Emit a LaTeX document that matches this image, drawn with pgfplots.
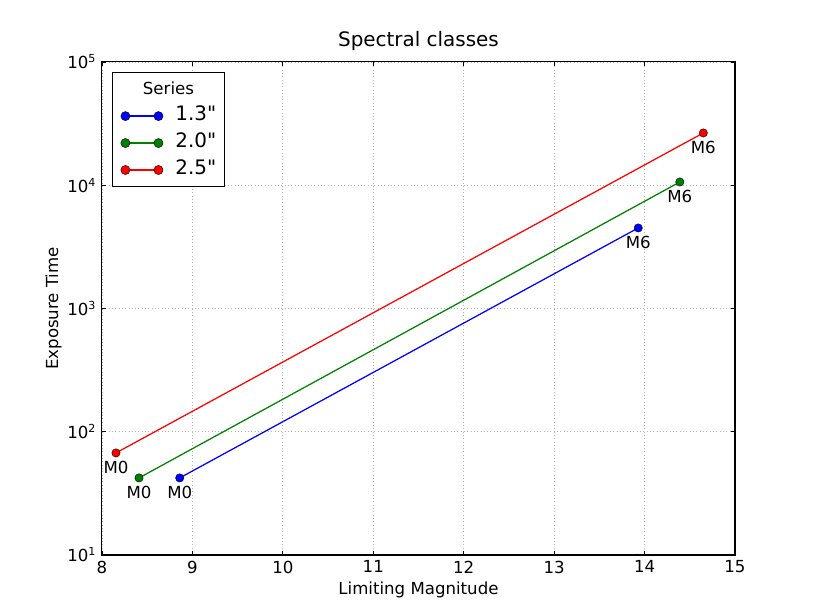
\documentclass[border=0pt]{standalone}
\usepackage{pgfplots}
\pgfplotsset{compat=1.18}
\usepackage{fontspec}
\setmainfont{DejaVu Sans}
\definecolor{mplblue}{rgb}{0,0,1}
\definecolor{mplgreen}{rgb}{0,0.5,0}
\definecolor{mplred}{rgb}{1,0,0}
\newcommand\dq{\XeTeXglyph\XeTeXcharglyph"22\relax}
\begin{document}
\fontsize{12}{14}\selectfont
\begin{tikzpicture}
\begin{axis}[
  scale only axis,
  width=455.8bp, height=355bp,
  xmin=8, xmax=15, ymin=10, ymax=100000,
  ymode=log, log basis y=10,
  xtick={8,9,10,11,12,13,14,15},
  ytick={10,100,1000,10000,100000},
  yticklabels={10\textsuperscript{1},10\textsuperscript{2},10\textsuperscript{3},10\textsuperscript{4},10\textsuperscript{5}},
  /pgf/number format/assume math mode=true,
  tick label style={font=\fontsize{12}{14}\selectfont},
  label style={font=\fontsize{12}{14}\selectfont},
  title style={font=\fontsize{14.4}{17}\selectfont, at={(0.5,1)}, anchor=base, yshift=5bp},
  title={Spectral classes},
  xlabel={Limiting Magnitude},
  ylabel={Exposure Time},
  tick align=inside, tick pos=both,
  major tick length=3bp, minor tick length=1.6bp,
  every tick/.style={black, line width=0.6bp},
  axis line style={line width=0.8bp},
  grid=major,
  major grid style={gray!60, dotted, line width=0.6bp},
  xlabel style={yshift=2bp},
  ylabel style={yshift=-4bp},
  legend cell align=left,
  legend style={at={(rel axis cs:0,1)}, anchor=north west, xshift=7.2bp, yshift=-7.2bp,
    draw=black, line width=0.8bp, font=\fontsize{14.4}{17}\selectfont,
    inner xsep=6bp, inner ysep=5.5bp, row sep=6.4bp,
    nodes={inner sep=0pt, text height=10bp, text depth=3bp}},
  legend image code/.code={\draw[#1, mark=*, mark size=3.3bp] plot coordinates {(0bp,0bp) (23.8bp,0bp)}; \path (35.5bp,0bp);},
  nodes near coords,
  point meta=explicit symbolic,
  every node near coord/.append style={anchor=north, yshift=-2bp, font=\fontsize{12}{14}\selectfont, black},
]
\coordinate (sw) at (rel axis cs:0,0);
\coordinate (ne) at (rel axis cs:1,1);
\addlegendimage{legend image code/.code={\node[overlay, anchor=center, font=\fontsize{12}{14}\selectfont, inner sep=0pt] at (31bp,0bp) {Series};}}
\addlegendentry{}
\addplot[mplblue, line width=0.9bp, mark=*, mark size=3bp, mark options={draw=black, line width=0.3bp, fill=mplblue}]
  coordinates {(8.86,42.2)[M0] (13.93,4500)[M6]};
\addlegendentry{1.3\dq}
\addplot[mplgreen, line width=0.9bp, mark=*, mark size=3bp, mark options={draw=black, line width=0.3bp, fill=mplgreen}]
  coordinates {(8.41,42.2)[M0] (14.39,10620)[M6]};
\addlegendentry{2.0\dq}
\addplot[mplred, line width=0.9bp, mark=*, mark size=3bp, mark options={draw=black, line width=0.3bp, fill=mplred}]
  coordinates {(8.155,67.3)[M0] (14.65,26550)[M6]};
\addlegendentry{2.5\dq}
\end{axis}
\pgfresetboundingbox
\path[use as bounding box] ([xshift=-73.4bp,yshift=-43.2bp]sw) rectangle ([xshift=57.6bp,yshift=44.6bp]ne);
\end{tikzpicture}
\end{document}
